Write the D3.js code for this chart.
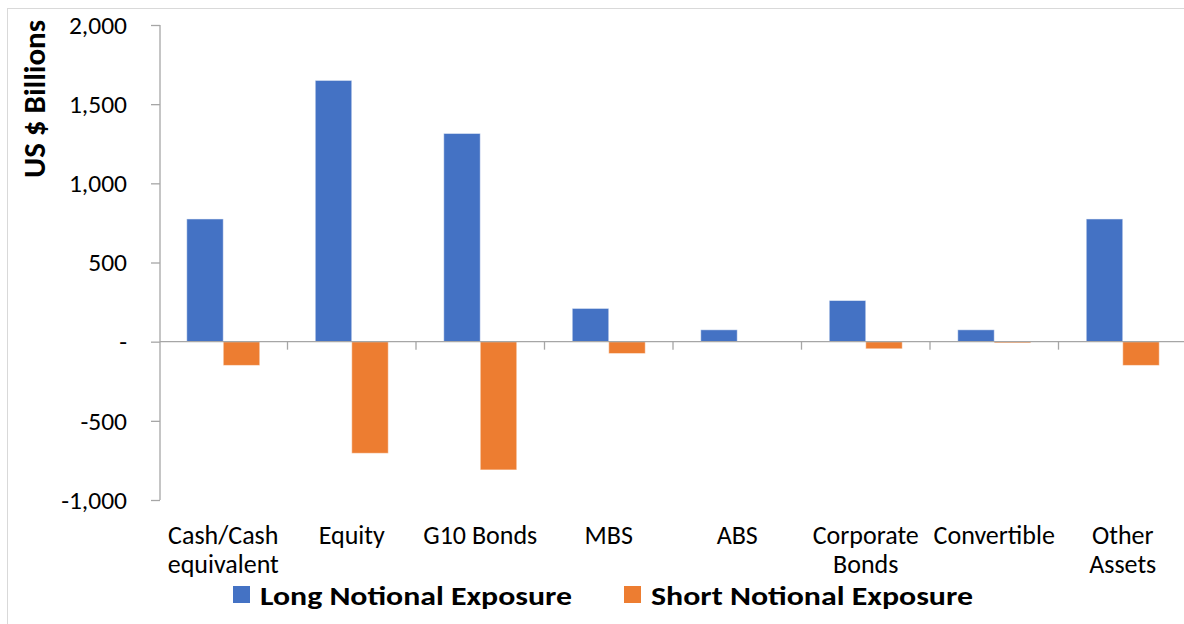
<!DOCTYPE html>
<html>
<head>
<meta charset="utf-8">
<script src="https://cdn.jsdelivr.net/npm/d3@7"></script>
<style>
  body { margin: 0; background: #fff; }
  svg { display: block; font-family: Carlito, Lato, sans-serif; }
</style>
</head>
<body>
<svg id="chart" width="1184" height="624"></svg>
<script>
// asset classes (line breaks as in the original labels)
let categories = ["Cash/Cash\nequivalent", "Equity", "G10 Bonds", "MBS", "ABS", "Corporate\nBonds", "Convertible", "Other\nAssets"]
let longExposure = [775, 1650, 1315, 210, 75, 260, 75, 775]
let shortExposure = [-150, -705, -810, -75, -2, -45, -8, -150]
let seriesNames = ["Long Notional Exposure", "Short Notional Exposure"]
let seriesColors = ["#4472C4", "#ED7D31"]
let yTicks = [-1000, -500, 0, 500, 1000, 1500, 2000]

let svg = d3.select("#chart")

// outer frame like the excel chart area
svg.append("rect")
    .attr("x", 7.5).attr("y", 8.5)
    .attr("width", 1180).attr("height", 620)
    .attr("fill", "none")
    .attr("stroke", "#d9d9d9")

let plotLeft = 159, plotRight = 1187, plotTop = 25, plotBottom = 500

let x = d3.scaleBand()
    .domain(categories)
    .range([plotLeft, plotRight])
    .padding(0)

let sub = d3.scaleBand()
    .domain([0, 1])
    .range([0, x.bandwidth()])
    .paddingInner(0)
    .paddingOuter(0.76)

let y = d3.scaleLinear()
    .domain([-1000, 2000])
    .range([plotBottom, plotTop])

let axisColor = "#a6a6a6"

// y axis, zero shown as a dash like excel's accounting format
let yAxis = svg.append("g")
    .attr("transform", "translate(" + (plotLeft + 1) + ",0)")
    .call(d3.axisLeft(y)
        .tickValues(yTicks)
        .tickSize(9)
        .tickPadding(24)
        .tickFormat(d => d == 0 ? "-" : d3.format(",")(d).replace("\u2212", "-")))
yAxis.select(".domain").attr("stroke", axisColor).attr("stroke-width", 1.3).attr("d", "M0," + y(2000) + "V" + y(-1000))
yAxis.selectAll(".tick line").attr("stroke", axisColor).attr("stroke-width", 1.3)
yAxis.selectAll(".tick text")
    .attr("fill", "#000")
    .style("font-family", "Carlito, Lato, sans-serif")
    .style("font-size", "25.5px")

// bars
let rows = categories.map((c, i) => ({ cat: c, values: [longExposure[i], shortExposure[i]] }))

let groups = svg.selectAll("g.cat")
    .data(rows)
    .enter()
    .append("g")
    .attr("class", "cat")
    .attr("transform", d => "translate(" + x(d.cat) + ",0)")

groups.selectAll("rect")
    .data(d => d.values.map((v, k) => ({ k: k, v: v })))
    .enter()
    .append("rect")
    .attr("x", d => sub(d.k))
    .attr("width", sub.bandwidth())
    .attr("y", d => Math.min(y(d.v), y(0)))
    .attr("height", d => Math.abs(y(d.v) - y(0)))
    .attr("fill", d => seriesColors[d.k])
    .attr("stroke", "#fff")
    .attr("stroke-opacity", 0.5)
    .attr("stroke-width", 1)

// x axis at zero
svg.append("line")
    .attr("x1", plotLeft + 1).attr("x2", plotRight)
    .attr("y1", y(0)).attr("y2", y(0))
    .attr("stroke", axisColor).attr("stroke-width", 1.3)
svg.selectAll("line.xtick")
    .data(categories.slice(1))
    .enter()
    .append("line")
    .attr("class", "xtick")
    .attr("x1", d => x(d)).attr("x2", d => x(d))
    .attr("y1", y(0)).attr("y2", y(0) + 8)
    .attr("stroke", axisColor).attr("stroke-width", 1.3)

// category labels
let labels = svg.selectAll("text.cat")
    .data(categories)
    .enter()
    .append("text")
    .attr("class", "cat")
    .attr("text-anchor", "middle")
    .attr("y", 544)
    .style("font-size", "26px")
    .attr("fill", "#000")
labels.selectAll("tspan")
    .data(d => d.split("\n").map(t => ({ t: t, c: d })))
    .enter()
    .append("tspan")
    .attr("x", d => x(d.c) + x.bandwidth() / 2)
    .attr("dy", (d, i) => i == 0 ? 0 : 29)
    .text(d => d.t)

// y title
svg.append("text")
    .attr("transform", "translate(45,99) rotate(-90)")
    .attr("text-anchor", "middle")
    .style("font-size", "31px")
    .style("font-weight", "bold")
    .text("US $ Billions")

// legend (calibri bold is wider than lato, so stretch to the same length)
let legendX = [233, 624]
let legendLen = [312, 322]
let legend = svg.selectAll("g.legend")
    .data(seriesNames)
    .enter()
    .append("g")
    .attr("class", "legend")
    .attr("transform", (d, i) => "translate(" + legendX[i] + ",586)")
legend.append("rect")
    .attr("width", 17).attr("height", 17)
    .attr("fill", (d, i) => seriesColors[i])
legend.append("text")
    .attr("x", 27).attr("y", 19)
    .attr("textLength", (d, i) => legendLen[i])
    .attr("lengthAdjust", "spacingAndGlyphs")
    .style("font-size", "26px")
    .style("font-weight", "bold")
    .text(d => d)
</script>
</body>
</html>
